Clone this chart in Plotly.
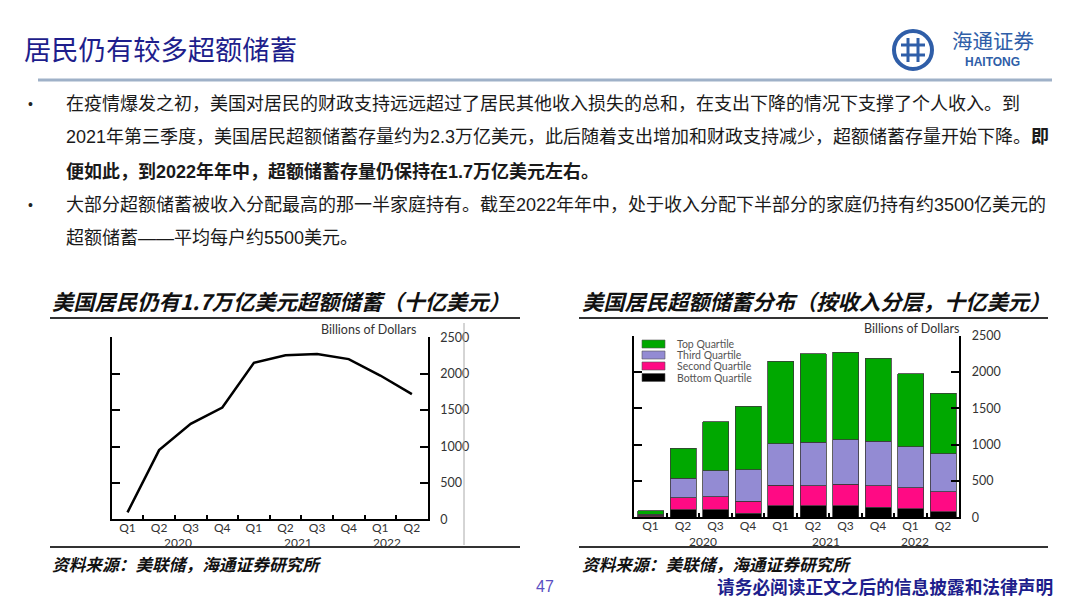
import plotly.graph_objects as go

# ---------------- data ----------------
quarters = ["Q1", "Q2", "Q3", "Q4", "Q1", "Q2", "Q3", "Q4", "Q1", "Q2"]
years = ["2020", "2021", "2022"]
year_pos_left = [1.6, 5.4, 8.2]
year_pos_right = [1.6, 5.4, 8.15]
x_idx = list(range(len(quarters)))

excess_total = [95, 950, 1312, 1535, 2150, 2252, 2272, 2200, 1975, 1720]

bottom_q = [10, 106, 106, 55, 161, 157, 161, 138, 115, 78]
second_q = [15, 162, 175, 166, 277, 277, 291, 296, 291, 277]
third_q = [15, 272, 360, 434, 577, 599, 614, 613, 563, 521]
top_q = [52, 410, 674, 876, 1130, 1218, 1203, 1144, 1010, 831]

series_names = ["Bottom Quartile", "Second Quartile", "Third Quartile", "Top Quartile"]
series_vals = [bottom_q, second_q, third_q, top_q]
series_colors = ["#000000", "#FF0A84", "#938BD3", "#00A800"]

y_ticks = [0, 500, 1000, 1500, 2000, 2500]

W, H = 1080, 606
def X(px): return px / W
def Y(py): return 1 - py / H

CJK = "Noto Sans CJK SC"
LAT = "Lato"
TXT = "Liberation Sans, Noto Sans CJK SC"

fig = go.Figure()

# line chart
fig.add_trace(go.Scatter(x=x_idx, y=excess_total, mode="lines",
                         line=dict(color="#000000", width=2.5),
                         xaxis="x", yaxis="y", showlegend=False, hoverinfo="skip"))

# stacked bars
for name, vals, col in zip(series_names, series_vals, series_colors):
    fig.add_trace(go.Bar(x=x_idx, y=vals, name=name, marker=dict(color=col, line=dict(color="#3a3a3a", width=0.8)),
                         width=0.8, xaxis="x2", yaxis="y2", showlegend=False))

half_ticks = [i + 0.5 for i in range(len(quarters) - 1)]
year_ticks = [3.5, 7.5]

def xax(domain, anchor):
    return dict(domain=domain, anchor=anchor, range=[-0.5, 9.5], tickmode="array",
                tickvals=x_idx, ticktext=quarters, ticks="", showline=True, linecolor="#000",
                linewidth=2, showgrid=False, zeroline=False, automargin=False, ticklabelstandoff=-4,
                tickfont=dict(family=LAT, size=12, color="#333"),
                minor=dict(tickmode="array", tickvals=half_ticks, ticks="inside", ticklen=4,
                           tickwidth=1.5, tickcolor="#000", showgrid=False))

def yax(domain, anchor):
    return dict(domain=domain, anchor=anchor, side="right", range=[0, 2500], tickmode="array",
                tickvals=y_ticks, ticks="inside", ticklen=8, tickwidth=1.5, tickcolor="#000",
                showline=True, linecolor="#000", linewidth=2, mirror="ticks", automargin=False,
                showgrid=False, zeroline=False, ticklabelstandoff=8,
                tickfont=dict(family=LAT, size=12.5, color="#333"))

def yearax(over, anchor):
    return dict(overlaying=over, anchor=anchor, range=[-0.5, 9.5], tickmode="array",
                tickvals=year_ticks, ticks="inside", ticklen=9, tickwidth=1.5, tickcolor="#000",
                showticklabels=False, showline=False, showgrid=False, zeroline=False, automargin=False)

dl = [X(111.7), X(427.7)]
dyl = [Y(519.3), Y(337.3)]
dr = [X(634.3), X(959.3)]
dyr = [Y(517.3), Y(335.7)]

fig.update_layout(
    width=W, height=H, margin=dict(l=0, r=0, t=0, b=0, pad=0, autoexpand=False),
    paper_bgcolor="white", plot_bgcolor="white", barmode="stack", showlegend=False,
    xaxis=xax(dl, "y"), yaxis=yax(dyl, "x"),
    xaxis2=xax(dr, "y2"), yaxis2=yax(dyr, "x2"),
    xaxis3=yearax("x", "y"), xaxis4=yearax("x2", "y2"),
)

ann = []
shapes = []

def txt(x, y, text, size, color="#111", family=CJK, xanchor="left", xref="paper"):
    ann.append(dict(x=x, y=y, xref=xref, yref="paper", xanchor=xanchor, yanchor="middle",
                    text=text, showarrow=False, font=dict(family=family, size=size, color=color)))

def hline(x0, x1, y, color, width):
    shapes.append(dict(type="line", xref="paper", yref="paper", x0=X(x0), x1=X(x1), y0=Y(y), y1=Y(y),
                       line=dict(color=color, width=width)))

# header
txt(X(22), Y(48), "居民仍有较多超额储蓄", 27.3, "#1E1E8C")
hline(38, 1052, 80, "#9FB1C8", 3)

# logo
blue = "#2F5EA8"
shapes.append(dict(type="circle", xref="paper", yref="paper", x0=X(894), x1=X(932), y0=Y(69), y1=Y(31),
                   line=dict(color=blue, width=4)))
for dx in (-5, 5):
    shapes.append(dict(type="line", xref="paper", yref="paper", x0=X(913 + dx), x1=X(913 + dx), y0=Y(38), y1=Y(62),
                       line=dict(color=blue, width=3)))
for dy in (-5, 5):
    shapes.append(dict(type="line", xref="paper", yref="paper", x0=X(901), x1=X(925), y0=Y(50 + dy), y1=Y(50 + dy),
                       line=dict(color=blue, width=3)))
txt(X(993), Y(40), "海通证券", 20.5, blue, xanchor="center")
txt(X(992), Y(62.5), "<b>HAITONG</b>", 12, blue, family="Liberation Sans", xanchor="center")

# bullets
lines = [
    (104, "在疫情爆发之初，美国对居民的财政支持远远超过了居民其他收入损失的总和，在支出下降的情况下支撑了个人收入。到"),
    (137, "2021年第三季度，美国居民超额储蓄存量约为2.3万亿美元，此后随着支出增加和财政支持减少，超额储蓄存量开始下降。<b>即</b>"),
    (171, "<b>便如此，到2022年年中，超额储蓄存量仍保持在1.7万亿美元左右。</b>"),
    (205, "大部分超额储蓄被收入分配最高的那一半家庭持有。截至2022年年中，处于收入分配下半部分的家庭仍持有约3500亿美元的"),
    (238, "超额储蓄——平均每户约5500美元。"),
]
for yy, t in lines:
    txt(X(64), Y(yy), t, 18.0, "#1a1a1a", family=TXT)
for yy in (104, 205):
    txt(X(30), Y(yy), "•", 14, "#222", family=TXT, xanchor="center")

# chart titles and rules
txt(X(50), Y(300), "<b><i>美国居民仍有1.7万亿美元超额储蓄（十亿美元）</i></b>", 21.3)
txt(X(580), Y(300), "<b><i>美国居民超额储蓄分布（按收入分层，十亿美元）</i></b>", 21.3)
for x0, x1 in ((50, 520), (579, 1048)):
    for yy in (318, 547):
        hline(x0, x1, yy, "#333", 2)
shapes.append(dict(type="line", xref="paper", yref="paper", x0=X(464), x1=X(464), y0=Y(323), y1=Y(545),
                   line=dict(color="#aaa", width=1)))

# Billions of Dollars
txt(X(418), Y(329), "Billions of Dollars", 12.5, "#333", family=LAT, xanchor="right")
txt(X(961), Y(328), "Billions of Dollars", 12.5, "#333", family=LAT, xanchor="right")

# year labels
for yr, xp in zip(years, year_pos_left):
    txt(xp, Y(542.5), yr, 12, "#333", family=LAT, xanchor="center", xref="x")
for yr, xp in zip(years, year_pos_right):
    txt(xp, Y(541), yr, 12, "#333", family=LAT, xanchor="center", xref="x2")

# manual legend (top first)
leg_rows = [344, 355, 366, 377.5]
for i, idx in enumerate([3, 2, 1, 0]):
    cy = leg_rows[i]
    shapes.append(dict(type="rect", xref="paper", yref="paper", x0=X(642), x1=X(665), y0=Y(cy - 4), y1=Y(cy + 4),
                       fillcolor=series_colors[idx], line=dict(color="#555", width=0.6)))
    txt(X(675), Y(cy), series_names[idx], 10.5, "#555", family=LAT)

# sources
for xx in (50, 580):
    txt(X(xx), Y(564), "<b><i>资料来源：美联储，海通证券研究所</i></b>", 16.7)

# footer
txt(X(545), Y(586), "47", 16, "#5A4FC2", family="Liberation Sans", xanchor="center")
txt(X(1055), Y(586), "<b>请务必阅读正文之后的信息披露和法律声明</b>", 17.7, "#1E1E8C", xanchor="right")

fig.update_layout(annotations=ann, shapes=shapes)
fig.write_html("out.html", config={"displayModeBar": False},
               post_script="document.body.style.margin='0';document.body.style.overflow='hidden';")
